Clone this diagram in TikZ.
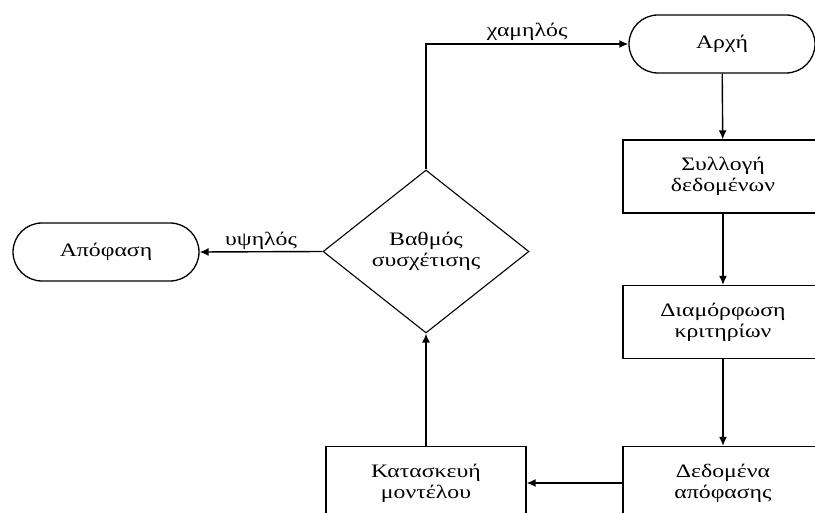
\documentclass[tikz,border=0pt]{standalone}
\usepackage{fontspec}
\setmainfont{Liberation Serif}[FakeStretch=1.25]
\usetikzlibrary{shapes.geometric,arrows.meta}

\begin{document}
\begin{tikzpicture}[
		x=1pt, y=-1pt,
		font=\fontsize{19}{21}\selectfont,
		arrow/.style={-{Latex[length=9pt,width=8pt]}, line width=1.4pt},
		term/.style={rectangle, draw, line width=1.3pt, rounded corners=29pt,
			minimum width=186pt, minimum height=58pt},
		proc/.style={rectangle, draw, line width=1.3pt,
			minimum width=200pt, minimum height=73pt, align=center},
		decision/.style={diamond, draw, line width=1.1pt, aspect=1.26,
			minimum width=206pt, minimum height=163pt, inner sep=0pt, align=center}
		]
		\useasboundingbox (0,0) rectangle (815,513);
		\clip (0,0) rectangle (815,513);
		
		% ---- Right column: main flow ----
		\node[term] (start)    at (722, 44)    {Αρχή};
		\node[proc] (collect)  at (723, 176.5) {Συλλογή\\δεδομένων};
		\node[proc] (criteria) at (723, 322)   {Διαμόρφωση\\κριτηρίων};
		\node[proc] (decdata)  at (723, 483)   {Δεδομένα\\απόφασης};
		
		% ---- Middle column: model and check ----
		\node[proc] (model)    at (426, 483)   {Κατασκευή\\μοντέλου};
		\node[decision] (corr) at (426, 251.5) {Βαθμός\\συσχέτισης};
		
		% ---- Left: result ----
		\node[term] (decision) at (106, 252)   {Απόφαση};
		
		% ---- Arrows ----
		\draw[arrow] (start) -- (collect);
		\draw[arrow] (collect) -- (criteria);
		\draw[arrow] (criteria) -- (decdata);
		\draw[arrow] (decdata) -- (model);
		\draw[arrow] (model) -- (corr);
		
		% low correlation -> back to start
		\draw[arrow] (corr.north) |- (start.west)
			node[pos=0.75, above, inner sep=3pt] {χαμηλός};
		
		% high correlation -> decision
		\draw[arrow] (corr.west) -- (decision.east)
			node[midway, above, inner sep=2pt] {υψηλός};
	\end{tikzpicture}
\end{document}
